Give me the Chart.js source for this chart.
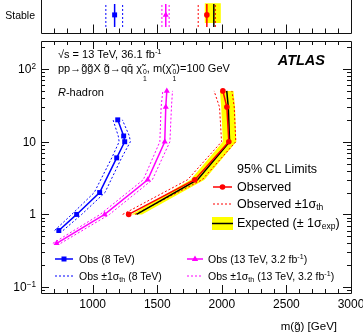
<!DOCTYPE html>
<html>
<head>
<meta charset="UTF-8">
<title>Gluino R-hadron lifetime limits</title>
<script src="https://cdn.jsdelivr.net/npm/chart.js"></script>
<style>
  body { margin: 0; background: #fff; }
  #wrap { position: relative; width: 363px; height: 333px; overflow: hidden; background: #fff;
          font-family: "Liberation Sans", Arial, Helvetica, sans-serif; color: #000; }
  canvas { position: absolute; left: 0; }
  .t { position: absolute; white-space: nowrap; line-height: 1; transform: translateY(-50%); }
  sup { font-size: 0.68em; vertical-align: 0.5em; line-height: 0; }
  sub { font-size: 0.68em; vertical-align: -0.3em; line-height: 0; }
  .st { display: inline-flex; flex-direction: column; font-size: 0.62em; line-height: 0.95; vertical-align: -0.3em; margin-left: 1px; }
  #leg { position: absolute; left: 0; top: 0; }
</style>
</head>
<body>
<div id="wrap">
  <canvas id="stable" width="363" height="39" style="top:-5px"></canvas>
  <canvas id="main" width="363" height="333" style="top:0"></canvas>
  <svg id="leg" width="363" height="333"></svg>
</div>
<script>
// lifetime tau [ns] vs excluded gluino mass [GeV]
const tau8 = [0.6, 1, 2, 6, 10, 12, 20];
const obs8 = [738, 876, 1054, 1186, 1248, 1240, 1194];
const obs8Lo = [705, 838, 1012, 1148, 1205, 1198, 1158];
const obs8Hi = [770, 915, 1095, 1224, 1292, 1284, 1230];

const tau13 = [0.4, 1, 3, 10, 30, 50];
const obs13 = [721, 1093, 1426, 1558, 1566, 1574];
const obs13Lo = [692, 1058, 1392, 1520, 1530, 1543];
const obs13Hi = [752, 1130, 1462, 1598, 1610, 1618];

const tau36 = [1, 3, 10, 30, 50];
const obs36 = [1279, 1791, 2054, 2039, 2008];
const obs36Lo = [1232, 1735, 1998, 1982, 1940];
const obs36Hi = [1328, 1848, 2108, 2096, 2078];
const exp36 = [1340, 1812, 2060, 2050, 2038];
const exp36Lo = [1300, 1758, 2008, 1995, 1985];
const exp36Hi = [1382, 1866, 2112, 2102, 2090];

// "Stable" row, order: 8 TeV, 13 TeV 3.2 fb-1, 13 TeV 36.1 fb-1
const stableObs = [1170, 1566, 1884];
const stableObsLo = [1102, 1536, 1817];
const stableObsHi = [1232, 1592, 1950];
const stableExp = [1938];
const stableExpLo = [1868];
const stableExpHi = [1992];

const xTicks = [1000, 1500, 2000, 2500, 3000];
const yTicks = [0.1, 1, 10, 100];
const yTickLabels = ['10<sup>−1</sup>', '1', '10', '10<sup>2</sup>'];

// vertical placement inside the stable row (0..1)
const rowLine = [0.18, 0.49, 0.77];
const rowBand = [0.28, 0.79];

const BLUE = '#0000ff', MAG = '#ff00ff', RED = '#ff0000', YEL = '#ffff00';

const pts = (xs, ys) => xs.map((x, i) => ({x, y: ys[i]}));
const shape = (lo, hi, ys) => pts(lo, ys).concat(pts(hi, ys).reverse());

function solid(xs, ys, color, style, r) {
    return { data: pts(xs, ys), borderColor: color, backgroundColor: color, borderWidth: 1.5,
             pointStyle: style, pointRadius: r, pointBorderWidth: 0, fill: false };
}
function dotted(xs, ys, color) {
    return { data: pts(xs, ys), borderColor: color, borderWidth: 1, borderDash: [2, 2],
             pointRadius: 0, fill: false };
}
function filled(data, color) {
    return { data, borderColor: 'rgba(0,0,0,0)', borderWidth: 0, backgroundColor: color,
             pointRadius: 0, fill: 'shape' };
}

// ATLAS style inward ticks + frame
const mainFrame = {
    id: 'mainFrame',
    afterDraw(chart) {
        const {ctx, chartArea: a, scales: {x, y}} = chart;
        ctx.save();
        ctx.strokeStyle = '#111';
        ctx.lineWidth = 1;
        ctx.beginPath();
        ctx.rect(Math.round(a.left) + 0.5, Math.round(a.top) + 0.5, Math.round(a.right - a.left), Math.round(a.bottom - a.top));
        for (let v = 700; v < 3000; v += 100) {
            const px = Math.round(x.getPixelForValue(v)) + 0.5;
            const len = v % 500 === 0 ? 8 : 4;
            ctx.moveTo(px, a.bottom); ctx.lineTo(px, a.bottom - len);
            ctx.moveTo(px, a.top); ctx.lineTo(px, a.top + len);
        }
        for (let e = -2; e <= 2; e++) {
            for (let m = 1; m <= 9; m++) {
                const v = m * Math.pow(10, e);
                if (v <= y.min || v >= y.max) continue;
                const py = Math.round(y.getPixelForValue(v)) + 0.5;
                const len = m === 1 ? 8 : 4;
                ctx.moveTo(a.left, py); ctx.lineTo(a.left + len, py);
                ctx.moveTo(a.right, py); ctx.lineTo(a.right - len, py);
            }
        }
        ctx.stroke();
        ctx.restore();
    }
};

const stableFrame = {
    id: 'stableFrame',
    afterDraw(chart) {
        const {ctx, chartArea: a, scales: {x}} = chart;
        ctx.save();
        ctx.strokeStyle = '#111';
        ctx.lineWidth = 1;
        ctx.beginPath();
        const b = Math.round(a.bottom) - 0.5;
        ctx.moveTo(Math.round(a.left) + 0.5, 0); ctx.lineTo(Math.round(a.left) + 0.5, b);
        ctx.lineTo(Math.round(a.right) + 0.5, b); ctx.lineTo(Math.round(a.right) + 0.5, 0);
        for (let v = 700; v < 3000; v += 100) {
            const px = Math.round(x.getPixelForValue(v)) + 0.5;
            const up = v % 500 === 0 ? 9 : 5;
            ctx.moveTo(px, b - up); ctx.lineTo(px, b + 5);
        }
        ctx.stroke();
        ctx.restore();
    }
};

const common = {
    responsive: false,
    animation: false,
    plugins: { legend: { display: false }, tooltip: { enabled: false } },
    elements: { line: { tension: 0 } }
};

// top "Stable" row
const stableSets = [
    { data: pts([stableObs[2], stableObs[2], stableObs[2]], rowLine), borderColor: RED, backgroundColor: RED,
      borderWidth: 1.5, pointRadius: [0, 2.8, 0], pointBorderWidth: 0, fill: false },
    { data: pts([stableObs[1], stableObs[1], stableObs[1]], rowLine), borderColor: MAG, backgroundColor: MAG,
      borderWidth: 1.5, pointStyle: 'triangle', pointRadius: [0, 3.5, 0], pointBorderWidth: 0, fill: false },
    { data: pts([stableObs[0], stableObs[0], stableObs[0]], rowLine), borderColor: BLUE, backgroundColor: BLUE,
      borderWidth: 1.5, pointStyle: 'rect', pointRadius: [0, 3.5, 0], pointBorderWidth: 0, fill: false },
    solid([stableExp[0], stableExp[0]], [rowLine[0], rowLine[2]], '#000', 'circle', 0),
    dotted([stableObsLo[0], stableObsLo[0]], [rowLine[0], rowLine[2]], BLUE),
    dotted([stableObsHi[0], stableObsHi[0]], [rowLine[0], rowLine[2]], BLUE),
    dotted([stableObsLo[1], stableObsLo[1]], [rowLine[0], rowLine[2]], MAG),
    dotted([stableObsHi[1], stableObsHi[1]], [rowLine[0], rowLine[2]], MAG),
    dotted([stableObsLo[2], stableObsLo[2]], [rowLine[0], rowLine[2]], RED),
    dotted([stableObsHi[2], stableObsHi[2]], [rowLine[0], rowLine[2]], RED),
    filled(shape([stableExpLo[0], stableExpLo[0]], [stableExpHi[0], stableExpHi[0]], rowBand), YEL)
];

const stableChart = new Chart(document.getElementById('stable'), {
    type: 'line',
    data: { datasets: stableSets },
    options: Object.assign({}, common, {
        layout: { padding: { left: 41, right: 12, top: 0, bottom: 0 } },
        scales: {
            x: { type: 'linear', min: 600, max: 3000, display: false },
            y: { type: 'linear', min: 0, max: 1, display: false }
        }
    }),
    plugins: [stableFrame]
});

// main panel, first dataset is drawn on top
const mainSets = [
    solid(obs36, tau36, RED, 'circle', 2.8),
    solid(obs8, tau8, BLUE, 'rect', 3.5),
    solid(obs13, tau13, MAG, 'triangle', 3.5),
    solid(exp36, tau36, '#000', 'circle', 0),
    dotted(obs36Lo, tau36, RED),
    dotted(obs36Hi, tau36, RED),
    dotted(obs8Lo, tau8, BLUE),
    dotted(obs8Hi, tau8, BLUE),
    dotted(obs13Lo, tau13, MAG),
    dotted(obs13Hi, tau13, MAG),
    filled(shape(exp36Lo, exp36Hi, tau36), YEL)
];

const mainChart = new Chart(document.getElementById('main'), {
    type: 'line',
    data: { datasets: mainSets },
    options: Object.assign({}, common, {
        layout: { padding: { left: 41, right: 12, top: 41, bottom: 40 } },
        scales: {
            x: { type: 'linear', min: 600, max: 3000, display: false },
            y: { type: 'logarithmic', min: 0.083, max: 243, display: false }
        }
    }),
    plugins: [mainFrame]
});

// text
const wrap = document.getElementById('wrap');
function text(html, css) {
    const d = document.createElement('div');
    d.className = 't';
    d.innerHTML = html;
    d.style.cssText += css;
    wrap.appendChild(d);
    return d;
}

const xs = mainChart.scales.x, ys = mainChart.scales.y;
xTicks.forEach(v => {
    const d = text(String(v), 'font-size:12px;top:304px;');
    d.style.left = xs.getPixelForValue(v) + 'px';
    d.style.transform = 'translate(-50%,-50%)';
});
yTicks.forEach((v, i) => {
    text(yTickLabels[i], 'font-size:12px;right:327px;top:' + ys.getPixelForValue(v) + 'px;');
});

text('m(g̃) [GeV]', 'font-size:11.5px;right:26px;top:327px;');
text('τ(g̃) [ns]', 'font-size:12.5px;left:-14px;top:92px;transform:rotate(-90deg);transform-origin:0 0;');
text('Stable', 'font-size:10.5px;right:328px;top:' + (stableChart.scales.y.getPixelForValue(0.49) - 5) + 'px;');

text('√s = 13 TeV, 36.1 fb<sup>-1</sup>', 'font-size:11px;left:58px;top:54px;');
text('pp→g̃g̃X g̃→qq̄ χ̃<span class="st"><span>0</span><span>1</span></span>, m(χ̃<span class="st"><span>0</span><span>1</span></span>)=100 GeV',
     'font-size:11px;left:58px;top:72px;');
text('<i>R</i>-hadron', 'font-size:11px;left:58px;top:92px;');
text('<b><i>ATLAS</i></b>', 'font-size:14.5px;right:38px;top:60px;');

text('95% CL Limits', 'font-size:12.5px;left:237px;top:169px;');
text('Observed', 'font-size:12.5px;left:237px;top:187px;');
text('Observed ±1σ<sub>th</sub>', 'font-size:12.5px;left:237px;top:204px;');
text('Expected (± 1σ<sub>exp</sub>)', 'font-size:12.5px;left:237px;top:223px;');

text('Obs (8 TeV)', 'font-size:10.5px;left:79px;top:259px;');
text('Obs ±1σ<sub>th</sub> (8 TeV)', 'font-size:10.5px;left:79px;top:276px;');
text('Obs (13 TeV, 3.2 fb<sup>-1</sup>)', 'font-size:10.5px;left:208px;top:259px;');
text('Obs ±1σ<sub>th</sub> (13 TeV, 3.2 fb<sup>-1</sup>)', 'font-size:10.5px;left:208px;top:276px;');

// legend symbols
document.getElementById('leg').innerHTML = `
  <line x1="213" y1="187" x2="232" y2="187" stroke="${RED}" stroke-width="1.5"/>
  <circle cx="222.5" cy="187" r="2.8" fill="${RED}"/>
  <line x1="213" y1="204" x2="232" y2="204" stroke="${RED}" stroke-width="1" stroke-dasharray="2 2"/>
  <rect x="212" y="217" width="21" height="13" fill="${YEL}"/>
  <line x1="212" y1="223.5" x2="233" y2="223.5" stroke="#000" stroke-width="1.5"/>
  <line x1="55" y1="259" x2="73" y2="259" stroke="${BLUE}" stroke-width="1.5"/>
  <rect x="61.5" y="256.5" width="5" height="5" fill="${BLUE}"/>
  <line x1="55" y1="276" x2="74" y2="276" stroke="${BLUE}" stroke-width="1" stroke-dasharray="2 2"/>
  <line x1="187" y1="259" x2="203" y2="259" stroke="${MAG}" stroke-width="1.5"/>
  <polygon points="195,255.5 198.2,261 191.8,261" fill="${MAG}"/>
  <line x1="187" y1="276" x2="203" y2="276" stroke="${MAG}" stroke-width="1" stroke-dasharray="2 2"/>`;
</script>
</body>
</html>
